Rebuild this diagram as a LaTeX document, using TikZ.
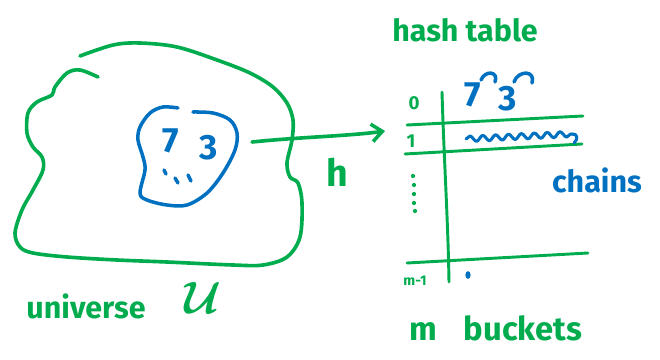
\documentclass[tikz,border=0pt]{standalone}
\usepackage{fontspec}
\usepackage{bm}
\setmainfont{Fira Sans}
\usetikzlibrary{arrows.meta,decorations.pathmorphing,shapes.geometric}
\definecolor{pengreen}{RGB}{0,172,78}
\definecolor{penblue}{RGB}{0,112,192}
\begin{document}
\begin{tikzpicture}[x=0.03cm,y=-0.03cm,
  greenpen/.style={draw=pengreen,line width=3.1pt,line cap=round,line join=round},
  bluepen/.style={draw=penblue,line width=3pt,line cap=round,line join=round},
  tablerule/.style={draw=pengreen,line width=2.5pt,line cap=round},
  gtext/.style={text=pengreen,inner sep=0pt},
  btext/.style={text=penblue,inner sep=0pt},
  bigfont/.style={font=\fontsize{26}{28}\selectfont\bfseries},
  digitfont/.style={font=\fontsize{30}{32}\selectfont\bfseries},
  rowfont/.style={font=\fontsize{16}{18}\selectfont\bfseries},
  pendot/.style={fill=pengreen,circle,inner sep=0pt,minimum size=3.6pt}]
\useasboundingbox (0,0) rectangle (660,360);

% the universe of keys
\draw[greenpen] plot[smooth,tension=0.55] coordinates {
  (80,56) (113,45) (140,43) (177,47) (217,60) (250,73) (273,87) (287,103)
  (293,120) (292,140) (287,163) (290,177) (298,183) (302,203) (300,237)
  (287,257) (263,265) (233,265) (167,262) (117,260) (67,257) (33,253)
  (20,247) (15,233) (22,210) (33,190) (43,170) (42,157) (33,147) (27,133)
  (28,113) (37,102) (52,95) (55,87) (67,73) (80,70) (98,77)};

% the stored keys
\draw[bluepen] plot[smooth,tension=0.55] coordinates {
  (178,108) (163,107) (150,113) (140,127) (138,140) (143,157) (145,170)
  (140,193) (147,200) (167,205) (187,205) (207,193) (223,173) (235,150)
  (237,133) (230,120) (213,113) (193,112)};
\node[btext,digitfont] (k7) at (171,141) {7};
\node[btext,digitfont] (k3) at (209,148) {3};
\draw[bluepen] (164,170) -- (166,174);
\draw[bluepen] (175,178) -- (178,183);
\draw[bluepen] (188,175) -- (191,181);

% the hash function
\coordinate (hstart) at (252,142);
\coordinate (hend) at (385,131);
\draw[greenpen,-{Straight Barb[length=9pt,width=15pt,line width=3pt]}]
  (hstart) .. controls (300,137) and (350,136) .. (hend);
\node[gtext,font=\fontsize{32}{34}\selectfont\bfseries] (h) at (337,172) {h};

% the table of buckets
\node[gtext,bigfont] (title) at (465,30) {hash table};
\coordinate (vtop) at (442,92);
\coordinate (vbot) at (449,282);
\draw[tablerule] (vtop) .. controls (444,160) and (448,220) .. (vbot);
\coordinate (r1a) at (407,125); \coordinate (r1b) at (583,116);
\coordinate (r2a) at (405,154); \coordinate (r2b) at (582,144);
\coordinate (r3a) at (407,263); \coordinate (r3b) at (588,253);
\draw[tablerule] (r1a) -- (r1b);
\draw[tablerule] (r2a) -- (r2b);
\draw[tablerule] (r3a) -- (r3b);

\node[gtext,rowfont] (b0) at (414,103) {0};
\node[gtext,rowfont] (b1) at (411,141) {1};
\node[gtext,font=\fontsize{12}{14}\selectfont\bfseries] (bm) at (415,281) {m-1};
\node[pendot] (d1) at (413,176) {};
\node[pendot] (d2) at (414,185) {};
\node[pendot] (d3) at (414,194) {};
\node[pendot] (d4) at (414,203) {};
\node[pendot] (d5) at (415,211) {};

% chain of bucket 0
\node[btext,digitfont] (c7) at (473,95) {7};
\node[btext,digitfont] (c3) at (508,99) {3};
\draw[bluepen] (481,80) .. controls (485,70) and (499,71) .. (495,82);
\draw[bluepen] (514,82) .. controls (518,70) and (536,70) .. (532,83);

% chain of bucket 1
\coordinate (s0) at (466,139);
\coordinate (s1) at (572,134);
\draw[bluepen,line width=2.6pt,decorate,decoration={snake,segment length=11pt,amplitude=2.4pt}]
  (s0) -- (s1);
\draw[bluepen,line width=2.6pt] (s1) .. controls (578,133) and (578,140) .. (574,143);

% empty chain of bucket m-1
\node[fill=penblue,ellipse,inner sep=0pt,minimum width=4.5pt,minimum height=6.5pt] (em) at (468,275) {};

\node[btext,bigfont] (chains) at (597,180) {chains};
\node[gtext,font=\fontsize{28}{30}\selectfont\bfseries] (mb) at (496,328) {m\hspace{0.8em}buckets};

% labels of the universe
\node[gtext,bigfont] (univ) at (86,306) {universe};
\node[gtext,font=\Huge,scale=1.55] (U) at (203,298) {$\bm{\mathcal{U}}$};
\end{tikzpicture}
\end{document}
